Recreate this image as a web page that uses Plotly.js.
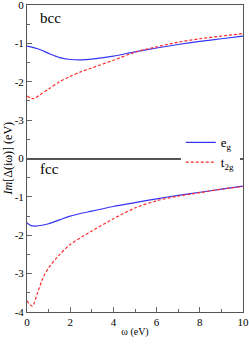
<!DOCTYPE html>
<html><head><meta charset="utf-8">
<script src="https://cdn.plot.ly/plotly-3.0.1.min.js"></script>
<style>html,body{margin:0;padding:0;background:#fff}#chart{width:249px;height:346px}</style>
</head><body><div id="chart"></div>
<script>
// bcc panel
const bccEgW  = [0, 0.5, 1, 1.5, 2, 2.5, 3, 4, 5, 6, 7, 8, 9, 10];
const bccEg   = [-1.07, -1.14, -1.26, -1.37, -1.42, -1.43, -1.41, -1.33, -1.22, -1.12, -1.03, -0.95, -0.88, -0.81];
const bccT2gW = [0, 0.15, 0.3, 0.6, 1, 1.5, 2, 2.5, 3, 4, 5, 6, 7, 8, 9, 10];
const bccT2g  = [-2.37, -2.42, -2.44, -2.34, -2.19, -2.00, -1.86, -1.74, -1.64, -1.44, -1.23, -1.09, -0.97, -0.88, -0.81, -0.745];
// fcc panel
const fccEgW  = [0, 0.1, 0.2, 0.4, 0.7, 1, 1.5, 2, 3, 4, 5, 6, 7, 8, 9, 10];
const fccEg   = [-1.67, -1.72, -1.75, -1.76, -1.74, -1.70, -1.60, -1.50, -1.37, -1.25, -1.15, -1.05, -0.96, -0.88, -0.80, -0.72];
const fccT2gW = [0, 0.1, 0.25, 0.5, 0.75, 1, 1.5, 2, 3, 4, 5, 6, 7, 8, 9, 10];
const fccT2g  = [-3.71, -3.78, -3.85, -3.48, -3.10, -2.85, -2.51, -2.24, -1.89, -1.57, -1.29, -1.10, -0.98, -0.89, -0.80, -0.73];
// ticks
const xTicks = [0, 2, 4, 6, 8, 10];
const xTickText = ["0", "2", "4", "6", "8", "10"];
const yTicksTop = [0, -1, -2, -3];
const yTickTextTop = ["0", "-1", "-2", "-3"];
const yTicksBot = [0, -1, -2, -3, -4];
const yTickTextBot = ["0", "-1", "-2", "-3", "-4"];
const seriesNames = ["e<sub>g</sub>", "t<sub>2g</sub>"];
const panelLabels = ["bcc", "fcc"];

const blue = "#3535f5", red = "#ff2a2a";
const font = "Liberation Serif";
const ln = (c, d) => ({color: c, width: 1.2, dash: d, shape: "spline", smoothing: 0.8});

const traces = [
  {x: bccEgW, y: bccEg, xaxis: "x2", yaxis: "y2", mode: "lines", name: seriesNames[0], line: ln(blue, "solid")},
  {x: bccT2gW, y: bccT2g, xaxis: "x2", yaxis: "y2", mode: "lines", name: seriesNames[1], line: ln(red, "3px,2px")},
  {x: fccEgW, y: fccEg, xaxis: "x", yaxis: "y", mode: "lines", showlegend: false, line: ln(blue, "solid")},
  {x: fccT2gW, y: fccT2g, xaxis: "x", yaxis: "y", mode: "lines", showlegend: false, line: ln(red, "3px,2px")}
];

const axisCommon = {
  showgrid: false, zeroline: false, showline: true, linecolor: "#555", linewidth: 1,
  mirror: true, ticks: "inside", ticklen: 5, tickcolor: "#666", tickwidth: 1,
  ticklabeloverflow: "allow",
  tickfont: {family: font, size: 11, color: "#000"}
};

const layout = {
  width: 249, height: 346,
  margin: {l: 27, r: 6, t: 5, b: 34},
  paper_bgcolor: "#fff", plot_bgcolor: "#fff",
  font: {family: font, color: "#000"},
  showlegend: true,
  legend: {x: 0.985, xanchor: "right", y: 0.52, yanchor: "middle", bgcolor: "#fff",
           font: {family: font, size: 13}, tracegroupgap: 0, borderwidth: 0},
  xaxis: Object.assign({}, axisCommon, {domain: [0, 1], anchor: "y", range: [0, 10],
          tickvals: xTicks, ticktext: xTickText, minor: {dtick: 1, ticklen: 3, ticks: "inside", tickcolor: "#666"},
          title: {text: "ω (eV)", font: {family: font, size: 10}, standoff: 0}}),
  xaxis2: Object.assign({}, axisCommon, {domain: [0, 1], anchor: "y2", matches: "x", range: [0, 10],
          ticks: "", showticklabels: false}),
  yaxis: Object.assign({}, axisCommon, {domain: [0, 0.5], anchor: "x", range: [-4, 0],
          tickvals: yTicksBot, ticktext: yTickTextBot, minor: {dtick: 0.5, ticklen: 3, ticks: "inside", tickcolor: "#666"}}),
  yaxis2: Object.assign({}, axisCommon, {domain: [0.5, 1], anchor: "x2", range: [-4, 0],
          tickvals: yTicksTop, ticktext: yTickTextTop, minor: {dtick: 0.5, ticklen: 3, ticks: "inside", tickcolor: "#666"}}),
  annotations: [
    {text: panelLabels[0], xref: "paper", yref: "paper", x: 0.05, y: 0.99, xanchor: "left", yanchor: "top",
     showarrow: false, font: {family: font, size: 15}},
    {text: panelLabels[1], xref: "paper", yref: "paper", x: 0.05, y: 0.497, xanchor: "left", yanchor: "top",
     showarrow: false, font: {family: font, size: 15}},
    {text: "<i>Im</i>[Δ(iω)] (eV)", xref: "paper", yref: "paper", x: -0.088, y: 0.5, xanchor: "center", yanchor: "middle",
     textangle: -90, showarrow: false, font: {family: font, size: 12}}
  ]
};

Plotly.newPlot("chart", traces, layout, {displayModeBar: false, staticPlot: true});
</script></body></html>
